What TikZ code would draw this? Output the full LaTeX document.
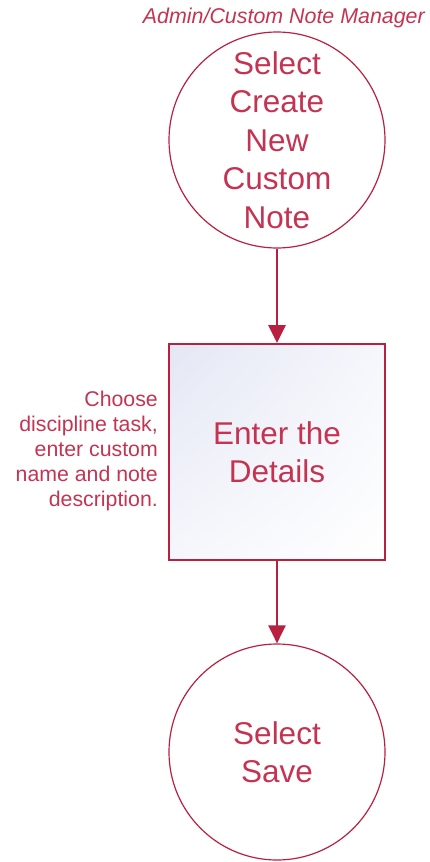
\documentclass[tikz,border=0pt]{standalone}
\usepackage{fontspec}
\setmainfont{Liberation Sans}
\usetikzlibrary{arrows.meta,shadings}
\definecolor{crim}{RGB}{184,32,64}
\definecolor{crimtext}{RGB}{196,52,82}
\definecolor{lav}{RGB}{228,231,244}
\definecolor{lavlight}{RGB}{246,247,252}
\tikzset{
  circline/.style={draw=crim, line width=1.2pt},
  boxline/.style={draw=crim, line width=1.8pt},
  bigtext/.style={text=crimtext, font=\fontsize{31.5}{38.5}\selectfont, align=center, inner sep=0pt},
  smalltext/.style={text=crimtext, font=\fontsize{21.3}{25}\selectfont, align=right, inner sep=0pt},
  flowarrow/.style={draw=crim, line width=2.6pt, -{Triangle[width=17pt,length=18pt]}, shorten >=0pt},
}
\begin{document}
\begin{tikzpicture}[x=1pt,y=-1pt]
\useasboundingbox (0,0) rectangle (430,862);
\node[circline, circle, minimum size=216pt, inner sep=0pt] (c1) at (277,140) {};
\node[bigtext] (t1) at (277,140) {Select\\Create\\New\\Custom\\Note};
\shade[upper left=lav, upper right=lavlight, lower left=lavlight, lower right=white] (169,344) rectangle (385,560);
\node[boxline, rectangle, minimum width=216pt, minimum height=216pt, inner sep=0pt] (b1) at (277,452) {};
\node[bigtext] (t2) at (277,452) {Enter the\\Details};
\node[circline, circle, minimum size=216pt, inner sep=0pt] (c2) at (277,752) {};
\node[bigtext] (t3) at (277,752) {Select\\Save};
\node[smalltext, anchor=east] (side) at (158,451) {Choose\\discipline task,\\enter custom\\name and note\\description.};
\node[text=crimtext, font=\fontsize{21.4}{24}\selectfont\itshape, anchor=east, inner sep=0pt] (title) at (425,18) {Admin/Custom Note Manager};
\draw[flowarrow] (c1.south) -- (b1.north);
\draw[flowarrow] (b1.south) -- (c2.north);
\end{tikzpicture}
\end{document}
